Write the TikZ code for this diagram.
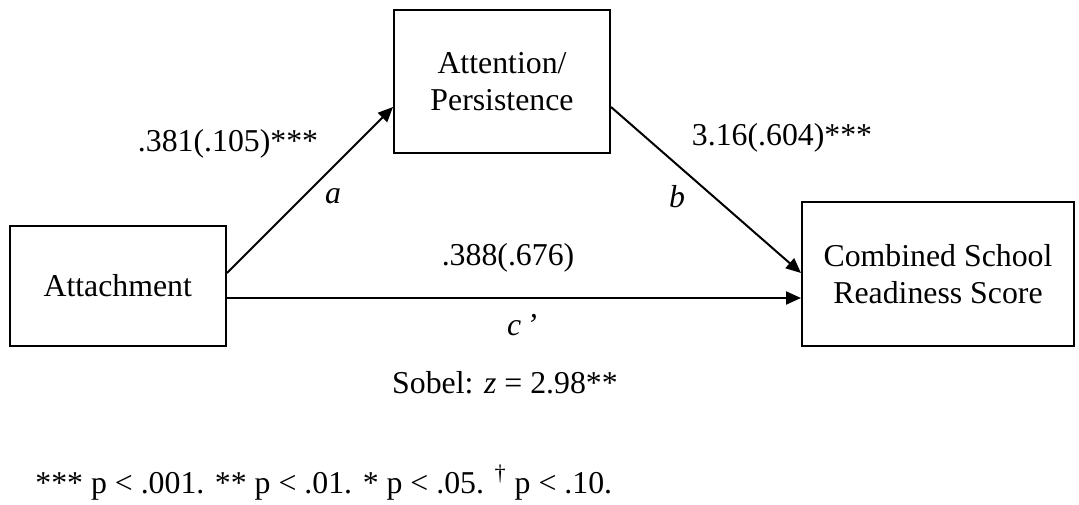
\documentclass[tikz,border=0pt]{standalone}
\usepackage{fontspec}
\setmainfont{Liberation Serif}
\usetikzlibrary{arrows.meta,positioning}

\begin{document}
\begin{tikzpicture}[
x=0.5pt, y=-0.5pt,
every node/.style={font=\fontsize{15.9}{18.4}\selectfont},
box/.style={draw, rectangle, line width=1pt, align=center, inner sep=0pt},
arrow/.style={-{Triangle[length=7.5pt, width=6.5pt]}, line width=1pt},
lab/.style={anchor=base, inner sep=0pt}
]

\useasboundingbox (0,0) rectangle (1079,504);

\node[box, minimum width=108.25pt, minimum height=60pt] (attach) at (117.75,286) {Attachment};
\node[box, minimum width=108pt, minimum height=71.5pt] (attn) at (502,81.5) {Attention/\\Persistence};
\node[box, minimum width=136pt, minimum height=72pt] (ready) at (938,274) {Combined School\\Readiness Score};

\draw[arrow] ([yshift=6.5pt]attach.east) -- ([yshift=-12.75pt]attn.west);
\draw[arrow] ([yshift=-12.75pt]attn.east) -- ([yshift=0.5pt]ready.west);
\draw[arrow] ([yshift=-6pt]attach.east) -- ([yshift=-6pt]attach.east -| ready.west);

\node[lab] (acoef) at (228,151) {.381(.105)***};
\node[lab] (apath) at (333,203) {\textit{a}};
\node[lab] (bpath) at (677,207) {\textit{b}};
\node[lab] (bcoef) at (782,145) {3.16(.604)***};
\node[lab] (ccoef) at (508,265) {.388(.676)};
\node[lab] (cpath) at (522,335) {\textit{c\,’}};
\node[lab] (sobel) at (505,393) {Sobel: \textit{z} = 2.98**};
\node[lab, anchor=base west] (note) at (35,493) {*** p < .001. ** p < .01. * p < .05. \textsuperscript{†} p < .10.};

\end{tikzpicture}
\end{document}
